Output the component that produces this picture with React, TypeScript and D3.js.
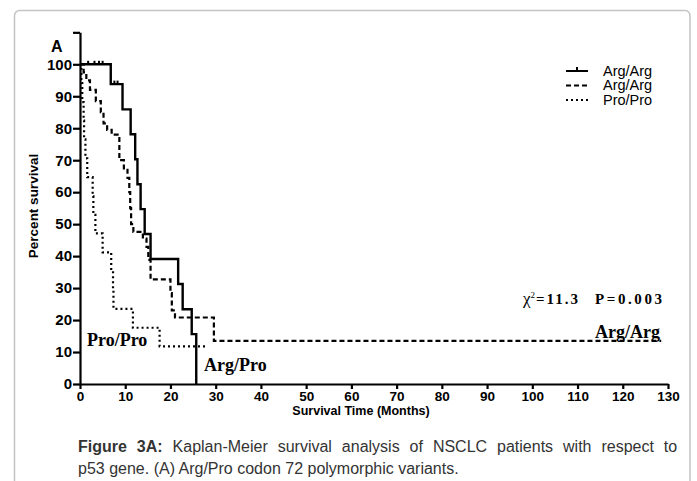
import React, { useRef, useEffect } from 'react';
import * as d3 from 'd3';

// Kaplan-Meier steps (time in months, percent surviving)
const argProTimes = [0, 6.8, 9.4, 11.2, 12.2, 12.7, 13.4, 14.3, 15.6, 21.7, 22.7, 24.7, 25.7];
const argProSurv = [100, 93.8, 85.9, 78.1, 70.3, 62.5, 54.7, 46.9, 39.1, 31.3, 23.4, 15.6, 0];

const argArgTimes = [0, 0.8, 1.4, 2.2, 3.5, 4.6, 5.2, 6.0, 7.0, 8.7, 9.7, 10.5, 10.9, 11.1, 11.3, 11.8, 13.9, 14.7, 15.1, 15.6, 20.0, 20.3, 21.0, 29.6, 128.5];
const argArgSurv = [100, 97.5, 95, 92, 88.5, 85, 81.5, 79.5, 78, 70, 67, 64.5, 60, 55, 50, 47.6, 45.5, 42.9, 38.8, 32.7, 28.4, 23, 20.8, 13.5, 13.5];

const proProTimes = [0, 0.3, 0.5, 0.8, 0.9, 1.2, 1.6, 2.8, 2.95, 3.4, 5.0, 6.9, 7.3, 7.4, 11.7, 17.6, 28];
const proProSurv = [100, 94.1, 88.2, 82.4, 76.5, 70.6, 64.7, 58.8, 52.9, 47.1, 41.2, 35.3, 29.4, 23.5, 17.6, 11.8, 11.8];

// censor marks on the solid curve
const censorTimes = [1.8, 3.2, 4.2, 5.0, 7.6, 8.3];
const censorSurv = [100, 100, 100, 100, 93.8, 93.8];

const xTicks = d3.range(0, 131, 10);
const yTicks = d3.range(0, 111, 10);

const legendLabels = ['Arg/Arg', 'Arg/Arg', 'Pro/Pro'];

const App = () => {
  const svgRef = useRef(null);

  useEffect(() => {
    const svg = d3.select(svgRef.current);
    svg.selectAll('*').remove();

    const xScale = d3.scaleLinear().domain([0, 130]).range([80, 668]);
    const yScale = d3.scaleLinear().domain([0, 110]).range([384, 384 - 110 * 3.197]);

    // figure frame
    svg.append('rect')
      .attr('x', 14.5).attr('y', 10.5)
      .attr('width', 675.5).attr('height', 520)
      .attr('rx', 5)
      .attr('fill', 'white')
      .attr('stroke', '#c4c4c4')
      .attr('stroke-width', 1.5);

    const sans = 'Arial, "Liberation Sans", Helvetica, sans-serif';
    const serif = '"Times New Roman", "Liberation Serif", serif';

    const yAxis = svg.append('g')
      .attr('transform', 'translate(80,0)')
      .call(d3.axisLeft(yScale).tickValues(yTicks).tickSize(7).tickSizeOuter(0).tickPadding(1)
        .tickFormat(d => (d > 100 ? '' : String(d))));
    const xAxis = svg.append('g')
      .attr('transform', 'translate(0,384)')
      .call(d3.axisBottom(xScale).tickValues(xTicks).tickSize(5).tickSizeOuter(0).tickPadding(2));

    [yAxis, xAxis].forEach(ax => {
      ax.selectAll('path, line').attr('stroke', '#000').attr('stroke-width', 2.2);
      ax.selectAll('text')
        .attr('fill', '#000')
        .style('font-family', sans)
        .style('font-weight', 'bold');
    });
    yAxis.selectAll('text').style('font-size', '15px');
    xAxis.selectAll('text').style('font-size', '13.5px');

    const line = d3.line()
      .x(d => xScale(d[0]))
      .y(d => yScale(d[1]))
      .curve(d3.curveStepAfter);

    const series = [
      { times: argProTimes, surv: argProSurv, dash: null, width: 2.4 },
      { times: argArgTimes, surv: argArgSurv, dash: '5,3', width: 2.2 },
      { times: proProTimes, surv: proProSurv, dash: '2,3', width: 2.2 },
    ];

    series.forEach(s => {
      svg.append('path')
        .attr('d', line(s.times.map((t, i) => [t, s.surv[i]])))
        .attr('fill', 'none')
        .attr('stroke', '#000')
        .attr('stroke-width', s.width)
        .attr('stroke-dasharray', s.dash);
    });

    svg.selectAll('.censor')
      .data(censorTimes)
      .enter()
      .append('line')
      .attr('class', 'censor')
      .attr('x1', d => xScale(d)).attr('x2', d => xScale(d))
      .attr('y1', (d, i) => yScale(censorSurv[i]))
      .attr('y2', (d, i) => yScale(censorSurv[i]) - 3.5)
      .attr('stroke', '#000')
      .attr('stroke-width', 2);

    // axis titles
    svg.append('text')
      .attr('transform', 'translate(38,206) rotate(-90)')
      .attr('text-anchor', 'middle')
      .style('font-family', sans).style('font-weight', 'bold').style('font-size', '13.5px')
      .text('Percent survival');
    svg.append('text')
      .attr('x', 361).attr('y', 415)
      .attr('text-anchor', 'middle')
      .style('font-family', sans).style('font-weight', 'bold').style('font-size', '12.5px')
      .text('Survival Time (Months)');

    svg.append('text')
      .attr('x', 51).attr('y', 52)
      .style('font-family', sans).style('font-weight', 'bold').style('font-size', '16px')
      .text('A');

    // legend
    const legend = svg.append('g').attr('transform', 'translate(566,71)');
    legendLabels.forEach((label, i) => {
      const y = i * 14.5;
      legend.append('line')
        .attr('x1', 0).attr('x2', 22).attr('y1', y).attr('y2', y)
        .attr('stroke', '#000')
        .attr('stroke-width', 2)
        .attr('stroke-dasharray', series[i].dash);
      if (i === 0) {
        legend.append('line')
          .attr('x1', 11).attr('x2', 11).attr('y1', y).attr('y2', y - 4)
          .attr('stroke', '#000').attr('stroke-width', 2);
      }
      legend.append('text')
        .attr('x', 37).attr('y', y + 4.5)
        .style('font-family', sans).style('font-size', '14.5px')
        .text(label);
    });

    // annotations
    const stat = svg.append('text')
      .attr('x', 523).attr('y', 304)
      .style('font-family', serif).style('font-size', '15px').style('font-weight', 'bold');
    stat.append('tspan').style('font-weight', 'normal').style('font-size', '17px').text('χ');
    stat.append('tspan').attr('dy', -6).style('font-size', '9px').style('font-weight', 'normal').text('2');
    stat.append('tspan').attr('dy', 6).attr('x', 536).attr('textLength', 42).attr('lengthAdjust', 'spacing').text('=11.3');
    stat.append('tspan').attr('x', 595).attr('textLength', 67).attr('lengthAdjust', 'spacing').text('P=0.003');

    const notes = [
      { text: 'Arg/Arg', x: 595, y: 338 },
      { text: 'Pro/Pro', x: 87, y: 346 },
      { text: 'Arg/Pro', x: 204, y: 371 },
    ];
    notes.forEach(n => {
      svg.append('text')
        .attr('x', n.x).attr('y', n.y)
        .style('font-family', serif).style('font-weight', 'bold').style('font-size', '18px')
        .text(n.text);
    });

    // caption (first line justified with wider word gaps)
    const cap1 = svg.append('text')
      .attr('x', 78).attr('y', 452)
      .attr('fill', '#333')
      .style('word-spacing', '5.5px')
      .style('font-family', sans).style('font-size', '16px');
    cap1.append('tspan').style('font-weight', 'bold').text('Figure 3A:');
    cap1.append('tspan').text(' Kaplan-Meier survival analysis of NSCLC patients with respect to');
    svg.append('text')
      .attr('x', 78).attr('y', 474)
      .attr('fill', '#333')
      .style('font-family', sans).style('font-size', '16px')
      .text('p53 gene. (A) Arg/Pro codon 72 polymorphic variants.');
  }, []);

  return (
    <svg
      ref={svgRef}
      width={697}
      height={481}
      style={{ position: 'absolute', left: 0, top: 0, background: 'white' }}
    ></svg>
  );
};

export default App;
